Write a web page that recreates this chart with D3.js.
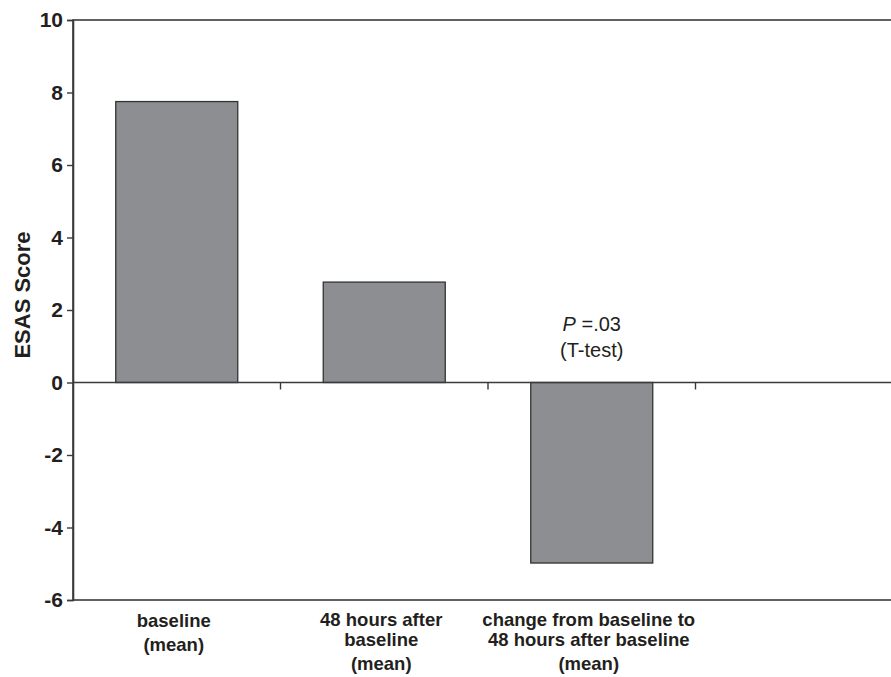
<!DOCTYPE html>
<html>
<head>
<meta charset="utf-8">
<script src="https://cdn.jsdelivr.net/npm/d3@7"></script>
<style>
  html, body { margin: 0; padding: 0; background: #fff; }
  svg { display: block; font-family: "Liberation Sans", Arial, Helvetica, sans-serif; }
</style>
</head>
<body>
<svg id="chart" width="891" height="677"></svg>
<script>
// chart data
const categories = ['baseline', '48 hours after baseline', 'change from baseline to 48 hours after baseline', ''];
const labelLines = [
  ['baseline', '(mean)'],
  ['48 hours after', 'baseline', '(mean)'],
  ['change from baseline to', '48 hours after baseline', '(mean)'],
  []
];
const values = [7.75, 2.77, -4.98];
const yTicks = [-6, -4, -2, 0, 2, 4, 6, 8, 10];

const svg = d3.select('#chart');
const plotLeft = 73, plotRight = 903, plotTop = 20, plotBottom = 600;

const x = d3.scaleBand()
  .domain(categories)
  .range([plotLeft, plotRight])
  .paddingInner(0.412)
  .paddingOuter(0.206);

const y = d3.scaleLinear()
  .domain([-6, 10])
  .range([plotBottom, plotTop]);

const axisColor = '#3a3a3a';
const textColor = '#231f20';

// frame (right side runs off the picture)
svg.append('rect')
  .attr('x', plotLeft)
  .attr('y', y(10))
  .attr('width', plotRight - plotLeft)
  .attr('height', y(-6) - y(10))
  .attr('fill', 'none')
  .attr('stroke', axisColor)
  .attr('stroke-width', 1.6);

// bars
svg.append('g').selectAll('rect')
  .data(values)
  .join('rect')
  .attr('x', (d, i) => x(categories[i]))
  .attr('y', d => y(Math.max(0, d)))
  .attr('width', x.bandwidth())
  .attr('height', d => Math.abs(y(d) - y(0)))
  .attr('fill', '#8d8e92')
  .attr('stroke', '#333')
  .attr('stroke-width', 1.3);

// y axis (plain hyphen for negatives, as in the original)
const yAxis = svg.append('g')
  .attr('transform', `translate(${plotLeft},0)`)
  .call(d3.axisLeft(y).tickValues(yTicks).tickSize(6).tickPadding(4).tickFormat(d => String(d)));
yAxis.select('.domain').attr('stroke', axisColor).attr('stroke-width', 1.6);
yAxis.selectAll('.tick line').attr('stroke', axisColor).attr('stroke-width', 1.4);
yAxis.selectAll('.tick text')
  .attr('fill', textColor)
  .attr('font-size', 21)
  .attr('font-weight', 'bold')
  .attr('font-family', '"Liberation Sans", Arial, sans-serif');

// zero line with category ticks
const step = x.step();
const xAxis = svg.append('g')
  .attr('transform', `translate(0,${y(0)})`)
  .call(d3.axisBottom(x).tickSize(7).tickFormat(''));
xAxis.select('.domain').attr('stroke', axisColor).attr('stroke-width', 1.6).attr('d', `M${plotLeft},0H${plotRight}`);
// move ticks to band boundaries
xAxis.selectAll('.tick')
  .attr('transform', d => `translate(${x(d) + x.bandwidth() / 2 + step / 2},0)`)
  .select('line').attr('stroke', axisColor).attr('stroke-width', 1.4);

// y title
svg.append('text')
  .attr('transform', `translate(30,${(y(10) + y(-6)) / 2 - 15}) rotate(-90)`)
  .attr('text-anchor', 'middle')
  .attr('font-size', 22)
  .attr('font-weight', 'bold')
  .attr('fill', textColor)
  .text('ESAS Score');

// category labels under the frame
const lineY = [[627, 651], [626, 646, 670], [626, 646, 670], []];
labelLines.forEach((lines, i) => {
  const cx = x(categories[i]) + x.bandwidth() / 2 - 3;
  lines.forEach((t, j) => {
    svg.append('text')
      .attr('x', cx)
      .attr('y', lineY[i][j])
      .attr('text-anchor', 'middle')
      .attr('font-size', 18.5)
      .attr('font-weight', 'bold')
      .attr('fill', textColor)
      .text(t);
  });
});

// p-value note above third bar
const px = x(categories[2]) + x.bandwidth() / 2;
const note = svg.append('text')
  .attr('x', px)
  .attr('y', 331)
  .attr('text-anchor', 'middle')
  .attr('font-size', 20)
  .attr('fill', textColor);
note.append('tspan').attr('font-style', 'italic').text('P');
note.append('tspan').text(' =.03');
svg.append('text')
  .attr('x', px)
  .attr('y', 357)
  .attr('text-anchor', 'middle')
  .attr('font-size', 20)
  .attr('fill', textColor)
  .text('(T-test)');
</script>
</body>
</html>
